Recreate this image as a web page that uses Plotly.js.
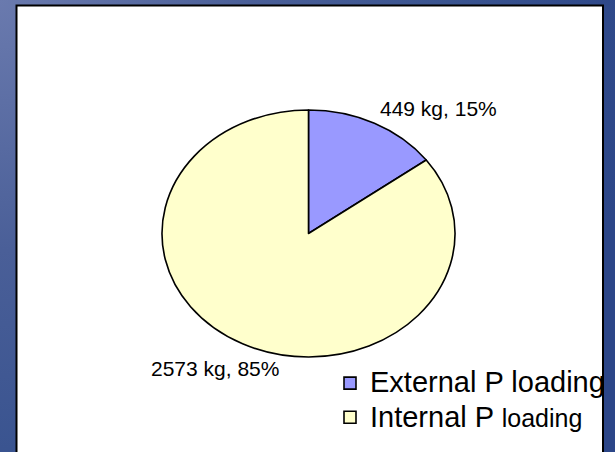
<!DOCTYPE html>
<html>
<head>
<meta charset="utf-8">
<script src="https://cdn.plot.ly/plotly-3.0.1.min.js"></script>
<style>
  html, body { margin: 0; padding: 0; width: 615px; height: 452px; overflow: hidden; }
  body, #edge {
    background: radial-gradient(circle at 0 0, #6a7aae 0px, #4a5f98 250px, #3a5490 450px, #2c4688 650px);
    background-attachment: fixed;
  }
  #chart { position: absolute; left: 0; top: 0; width: 615px; height: 452px; }
  #edge { position: absolute; left: 602px; top: 5px; width: 13px; height: 447px; z-index: 10;
          border-left: 2px solid #000000; box-sizing: border-box; }
</style>
</head>
<body>
<div id="chart"></div>
<div id="edge"></div>
<script>
// ---- data ----
const labels = ['<span style="font-size:29px">External P loading</span>',
                '<span style="font-size:29px">Internal P </span><span style="font-size:25px">loading</span>'];
const values = [449, 2573];
const units = 'kg';
const colors = ['#9999ff', '#ffffcc'];

const total = values.reduce((a, b) => a + b, 0);
const labelText = values.map(v => v + ' ' + units + ', ' + Math.round(v / total * 100) + '%');

const W = 615, H = 452;
const cx = 308.5, cy = 233.5, rx = 146.5, ry = 123.5;

const trace = {
  type: 'pie',
  labels: labels,
  values: values,
  sort: false,
  direction: 'clockwise',
  rotation: 0,
  textinfo: 'none',
  hoverinfo: 'label+value+percent',
  marker: { colors: colors, line: { color: '#000000', width: 1.6 } },
  domain: { x: [(cx - rx) / W, (cx + rx) / W], y: [(H - cy - rx) / H, (H - cy + rx) / H] }
};

const layout = {
  width: W, height: H,
  margin: { l: 0, r: 0, t: 0, b: 0 },
  paper_bgcolor: 'rgba(0,0,0,0)',
  plot_bgcolor: 'rgba(0,0,0,0)',
  font: { family: 'Liberation Sans, Arial, sans-serif', color: '#000000' },
  showlegend: true,
  legend: {
    x: 330 / W, xanchor: 'left',
    y: 1 - 361 / H, yanchor: 'top',
    bgcolor: 'rgba(0,0,0,0)',
    font: { size: 24, color: '#000000', family: 'Liberation Sans, Arial, sans-serif' },
    itemwidth: 30,
    traceorder: 'normal'
  },
  shapes: [{
    type: 'rect', xref: 'paper', yref: 'paper', layer: 'below',
    x0: 16.5 / W, x1: 603 / W, y0: -0.1, y1: 1 - 5.5 / H,
    fillcolor: '#ffffff', line: { color: '#000000', width: 2 }
  }],
  annotations: [
    { xref: 'paper', yref: 'paper', x: 438 / W, y: 1 - 108.5 / H, xanchor: 'center', yanchor: 'middle',
      text: labelText[0], showarrow: false, font: { size: 21, color: '#000000' } },
    { xref: 'paper', yref: 'paper', x: 215 / W, y: 1 - 368.5 / H, xanchor: 'center', yanchor: 'middle',
      text: labelText[1], showarrow: false, font: { size: 21, color: '#000000' } }
  ]
};

Plotly.newPlot('chart', [trace], layout, { displayModeBar: false, staticPlot: true }).then(function (gd) {
  const k = ry / rx;
  gd.querySelectorAll('.pielayer .trace').forEach(function (g) {
    g.setAttribute('transform', 'translate(0,' + cy + ') scale(1,' + k + ') translate(0,' + (-cy) + ')');
    g.querySelectorAll('path').forEach(function (p) { p.setAttribute('vector-effect', 'non-scaling-stroke'); });
  });
});
</script>
</body>
</html>
